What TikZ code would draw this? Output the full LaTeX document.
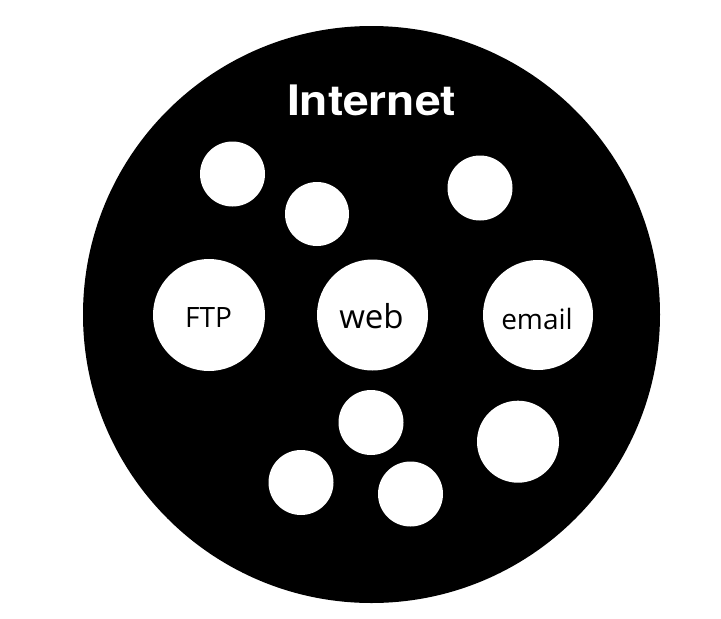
\documentclass[tikz,border=0pt]{standalone}
\usepackage{fontspec}
\setmainfont{Open Sans}
\newfontfamily\titlefont{TeX Gyre Heros}
\begin{document}
\begin{tikzpicture}[x=1pt,y=-1pt,
  hole/.style={circle,fill=white,inner sep=0pt,minimum size=#1},
  lbl/.style={anchor=base,inner sep=0pt,text=black}]
\useasboundingbox (0,0) rectangle (721,619);
\node[circle,fill=black,inner sep=0pt,minimum size=577] (net) at (371.5,314.5) {};
\node[anchor=base,inner sep=0pt,text=white,font=\titlefont\bfseries\fontsize{42}{50}\selectfont] (title) at (371.5,115) {\scalebox{1.1}[1]{Internet}};
\node[hole=65] (a) at (232.5,174) {};
\node[hole=64] (b) at (317,214) {};
\node[hole=65] (c) at (480,188) {};
\node[hole=112] (ftp) at (209,315) {};
\node[hole=111] (web) at (372.5,315) {};
\node[hole=110] (email) at (538,315) {};
\node[hole=65] (d) at (371,422.5) {};
\node[hole=65] (e) at (301,482.5) {};
\node[hole=65] (f) at (410.5,494) {};
\node[hole=82] (g) at (518,441.7) {};
\node[lbl,font=\fontsize{28}{34}\selectfont] (ftpl) at (208.5,327.3) {FTP};
\node[lbl,font=\fontsize{33}{39}\selectfont] (webl) at (371.5,328.3) {web};
\node[lbl,font=\fontsize{28}{34}\selectfont] (emaill) at (537,329.3) {email};
\end{tikzpicture}
\end{document}
